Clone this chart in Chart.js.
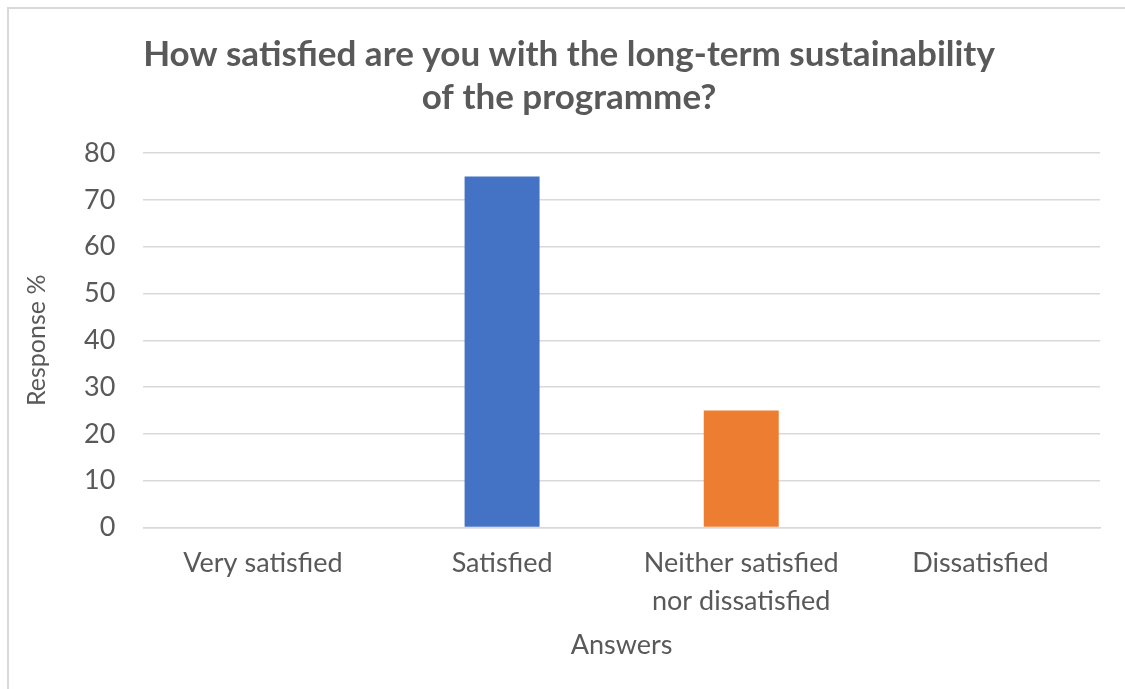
<!DOCTYPE html>
<html>
<head>
<meta charset="utf-8">
<script src="https://cdn.jsdelivr.net/npm/chart.js@4"></script>
<style>
    html, body { margin: 0; padding: 0; background: #ffffff; }
    #wrap { width: 1125px; height: 689px; }
</style>
</head>
<body>
<div id="wrap"><canvas id="surveyChart" width="1125" height="689"></canvas></div>
<script>
const answers = ['Very satisfied', 'Satisfied', ['Neither satisfied', 'nor dissatisfied'], 'Dissatisfied'];
const responsePct = [0, 75, 25, 0];
const barColours = ['#4472C4', '#4472C4', '#ED7D31', '#4472C4'];
const yTicks = [0, 10, 20, 30, 40, 50, 60, 70, 80];

const textGrey = '#595959';
const gridGrey = '#d9d9d9';
const fontFamily = 'Lato, "Open Sans", sans-serif';

// Excel-style outer frame (only top and left edges are visible in the shot)
const framePlugin = {
    id: 'frame',
    afterLayout(chart) {
        // the title in the original is centred on the whole frame, a bit right of ours
        chart.titleBlock.left += 16;
    },
    beforeDraw(chart) {
        const c = chart.ctx;
        c.save();
        c.fillStyle = '#ffffff';
        c.fillRect(0, 0, chart.width, chart.height);
        c.strokeStyle = gridGrey;
        c.lineWidth = 2;
        c.strokeRect(8, 8, chart.width + 20, chart.height + 20);
        c.restore();
    }
};

const ctx = document.getElementById('surveyChart').getContext('2d');

const surveyChart = new Chart(ctx, {
    type: 'bar',
    data: {
        labels: answers,
        datasets: [{
            label: 'Response %',
            data: responsePct,
            backgroundColor: barColours,
            borderWidth: 0,
            barPercentage: 0.3135,
            categoryPercentage: 1
        }]
    },
    options: {
        responsive: false,
        animation: false,
        layout: {
            padding: { left: 22, right: 25, top: 0, bottom: 27.5 }
        },
        plugins: {
            legend: { display: false },
            tooltip: { enabled: false },
            title: {
                display: true,
                text: ['How satisfied are you with the long-term sustainability', 'of the programme?'],
                color: textGrey,
                font: { family: fontFamily, size: 35, weight: 'bold', lineHeight: 1.23 },
                padding: { top: 33, bottom: 34 }
            }
        },
        scales: {
            x: {
                grid: { display: false },
                border: { color: gridGrey, width: 1.5 },
                ticks: {
                    color: textGrey,
                    font: { family: fontFamily, size: 27, lineHeight: 1.4 },
                    padding: 9,
                    maxRotation: 0,
                    autoSkip: false
                },
                title: {
                    display: true,
                    text: 'Answers',
                    color: textGrey,
                    font: { family: fontFamily, size: 27 },
                    padding: { top: 0, bottom: 0 }
                }
            },
            y: {
                min: 0,
                max: 80,
                afterBuildTicks: axis => {
                    axis.ticks = yTicks.map(v => ({ value: v }));
                },
                grid: { color: gridGrey, lineWidth: 1.5, drawTicks: false },
                border: { display: false },
                ticks: {
                    color: textGrey,
                    font: { family: fontFamily, size: 27 },
                    padding: 28
                },
                title: {
                    display: true,
                    text: 'Response %',
                    color: textGrey,
                    font: { family: fontFamily, size: 25 },
                    padding: { top: 0, bottom: 4 }
                }
            }
        }
    },
    plugins: [framePlugin]
});
</script>
</body>
</html>
